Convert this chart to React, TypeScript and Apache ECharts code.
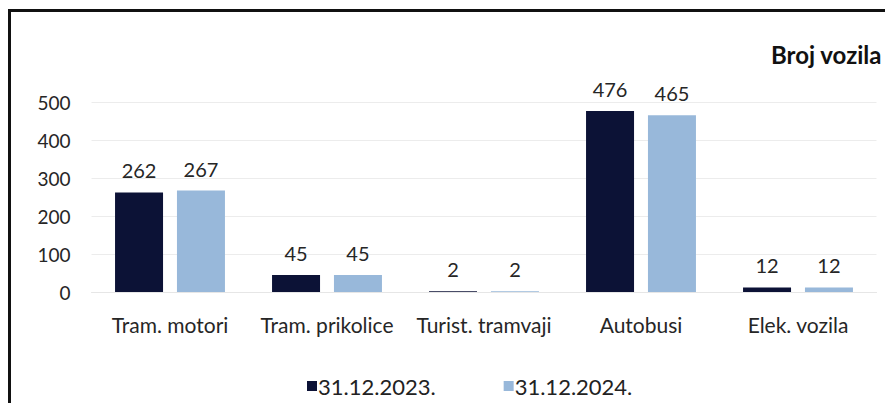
import React, { useEffect, useRef } from "react";
import * as echarts from "echarts";

const categories = ["Tram. motori", "Tram. prikolice", "Turist. tramvaji", "Autobusi", "Elek. vozila"];
const series2023 = [262, 45, 2, 476, 12];
const series2024 = [267, 45, 2, 465, 12];
const seriesNames = ["31.12.2023.", "31.12.2024."];
const yTicks = [0, 100, 200, 300, 400, 500];
const titleText = "Broj vozila";

const FONT = "Lato, 'Open Sans', sans-serif";

export default function App() {
  const ref = useRef<HTMLDivElement>(null);
  useEffect(() => {
    document.body.style.margin = "0";
    const chart = echarts.init(ref.current!, null, { renderer: "svg" });
    chart.setOption({
      animation: false,
      backgroundColor: "#ffffff",
      textStyle: { fontFamily: FONT },
      grid: { left: 91.5, top: 102, width: 785, height: 190, containLabel: false },
      graphic: [
        {
          type: "polyline",
          shape: { points: [[9.5, 403], [9.5, 10.5], [885, 10.5]] },
          style: { stroke: "#111111", lineWidth: 3, fill: null },
        },
        {
          type: "text",
          left: 771,
          top: 42,
          style: { text: titleText, font: `bold 24px ${FONT}`, fill: "#111111" },
        },
      ],
      legend: {
        left: 302,
        top: 370,
        icon: "rect",
        itemWidth: 10,
        itemHeight: 10,
        itemGap: 68,
        textStyle: { fontSize: 22, color: "#222222", fontFamily: FONT, padding: [0, 0, 0, -4] },
        data: seriesNames,
      },
      xAxis: {
        type: "category",
        data: categories,
        axisLine: { show: true, lineStyle: { color: "#e6e6e6" } },
        axisTick: { show: false },
        axisLabel: { interval: 0, hideOverlap: false, fontSize: 21, color: "#262626", margin: 22, fontFamily: FONT },
      },
      yAxis: {
        type: "value",
        min: 0,
        max: yTicks[yTicks.length - 1],
        interval: 100,
        axisLine: { show: false },
        axisTick: { show: false },
        splitLine: { lineStyle: { color: "#ececec" } },
        axisLabel: { fontSize: 19, color: "#262626", margin: 21, fontFamily: FONT },
      },
      series: [
        {
          name: seriesNames[0],
          type: "bar",
          data: series2023,
          barWidth: 48,
          barGap: "29%",
          itemStyle: { color: "#0c1236" },
          label: { show: true, position: "top", distance: 12, fontSize: 20, color: "#262626", fontFamily: FONT },
        },
        {
          name: seriesNames[1],
          type: "bar",
          data: series2024,
          barWidth: 48,
          barGap: "29%",
          itemStyle: { color: "#98b8da" },
          label: { show: true, position: "top", distance: 12, fontSize: 20, color: "#262626", fontFamily: FONT },
        },
      ],
    });
    return () => chart.dispose();
  }, []);
  return <div ref={ref} style={{ width: 885, height: 403 }} />;
}
